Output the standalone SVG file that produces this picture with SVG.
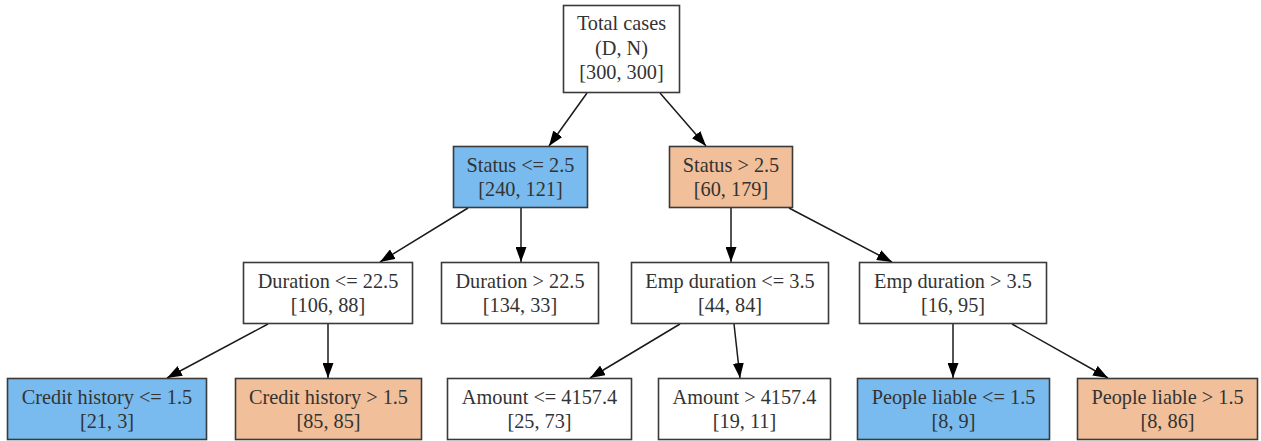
<svg xmlns="http://www.w3.org/2000/svg" width="1261" height="441" viewBox="0 0 1261 441">
<style>
.box{stroke:#3a3a3a;stroke-width:1.6;fill:#ffffff}
.blue{fill:#79bbee}
.orange{fill:#f1bf99}
text{font-family:"Liberation Serif","Times New Roman",serif;font-size:20.3px;fill:#333;text-anchor:middle}
.edge{stroke:#1a1a1a;stroke-width:1.5;fill:none}
</style>
<defs>
<marker id="arr" viewBox="0 0 15 11" refX="15" refY="5.5" markerWidth="15" markerHeight="11" markerUnits="userSpaceOnUse" orient="auto">
<path d="M0,0 L15,5.5 L0,11 Z" fill="#000"/>
</marker>
</defs>
<rect width="1261" height="441" fill="#fff"/>
<g id="connectors">
<line class="edge" x1="587" y1="93" x2="549" y2="146" marker-end="url(#arr)"/>
<line class="edge" x1="660" y1="93" x2="706" y2="146" marker-end="url(#arr)"/>
<line class="edge" x1="468" y1="208" x2="380" y2="262" marker-end="url(#arr)"/>
<line class="edge" x1="521" y1="208" x2="521" y2="262" marker-end="url(#arr)"/>
<line class="edge" x1="731" y1="208" x2="731" y2="262" marker-end="url(#arr)"/>
<line class="edge" x1="789" y1="208" x2="892" y2="262" marker-end="url(#arr)"/>
<line class="edge" x1="268" y1="324" x2="167" y2="378" marker-end="url(#arr)"/>
<line class="edge" x1="328" y1="324" x2="328" y2="378" marker-end="url(#arr)"/>
<line class="edge" x1="680" y1="324" x2="590" y2="378" marker-end="url(#arr)"/>
<line class="edge" x1="734" y1="324" x2="740" y2="378" marker-end="url(#arr)"/>
<line class="edge" x1="953" y1="324" x2="953" y2="378" marker-end="url(#arr)"/>
<line class="edge" x1="1012" y1="324" x2="1108" y2="378" marker-end="url(#arr)"/>
</g>
<g id="root">
<rect class="box" x="563.5" y="5.5" width="116" height="87"/>
<text x="621.5" y="30">Total cases</text>
<text x="621.5" y="54.5">(D, N)</text>
<text x="621.5" y="79">[300, 300]</text>
</g>
<g id="status_le">
<rect class="box blue" x="453.5" y="146.5" width="134" height="61"/>
<text x="520.5" y="172">Status &lt;= 2.5</text>
<text x="520.5" y="196">[240, 121]</text>
</g>
<g id="status_gt">
<rect class="box orange" x="669.5" y="146.5" width="123" height="61"/>
<text x="731" y="172">Status &gt; 2.5</text>
<text x="731" y="196">[60, 179]</text>
</g>
<g id="duration_le">
<rect class="box" x="243.5" y="262.5" width="169" height="61"/>
<text x="328" y="287.5">Duration &lt;= 22.5</text>
<text x="328" y="311.5">[106, 88]</text>
</g>
<g id="duration_gt">
<rect class="box" x="441.5" y="262.5" width="157" height="61"/>
<text x="520" y="287.5">Duration &gt; 22.5</text>
<text x="520" y="311.5">[134, 33]</text>
</g>
<g id="empdur_le">
<rect class="box" x="631.5" y="262.5" width="197" height="61"/>
<text x="730" y="287.5">Emp duration &lt;= 3.5</text>
<text x="730" y="311.5">[44, 84]</text>
</g>
<g id="empdur_gt">
<rect class="box" x="859.5" y="262.5" width="187" height="61"/>
<text x="953" y="287.5">Emp duration &gt; 3.5</text>
<text x="953" y="311.5">[16, 95]</text>
</g>
<g id="credit_le">
<rect class="box blue" x="7.5" y="378.5" width="199" height="61"/>
<text x="107" y="403.5">Credit history &lt;= 1.5</text>
<text x="107" y="427.5">[21, 3]</text>
</g>
<g id="credit_gt">
<rect class="box orange" x="235.5" y="378.5" width="186" height="61"/>
<text x="328.5" y="403.5">Credit history &gt; 1.5</text>
<text x="328.5" y="427.5">[85, 85]</text>
</g>
<g id="amount_le">
<rect class="box" x="447.5" y="378.5" width="184" height="61"/>
<text x="539.5" y="403.5">Amount &lt;= 4157.4</text>
<text x="539.5" y="427.5">[25, 73]</text>
</g>
<g id="amount_gt">
<rect class="box" x="658.5" y="378.5" width="172" height="61"/>
<text x="744.5" y="403.5">Amount &gt; 4157.4</text>
<text x="744.5" y="427.5">[19, 11]</text>
</g>
<g id="people_le">
<rect class="box blue" x="857.5" y="378.5" width="192" height="61"/>
<text x="953.5" y="403.5">People liable &lt;= 1.5</text>
<text x="953.5" y="427.5">[8, 9]</text>
</g>
<g id="people_gt">
<rect class="box orange" x="1077.5" y="378.5" width="180" height="61"/>
<text x="1167.5" y="403.5">People liable &gt; 1.5</text>
<text x="1167.5" y="427.5">[8, 86]</text>
</g>
</svg>
